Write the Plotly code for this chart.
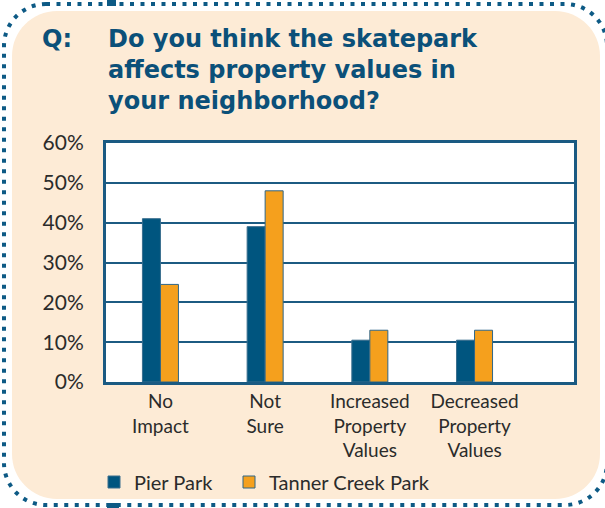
import plotly.graph_objects as go

categories = ["No<br>Impact", "Not<br>Sure", "Increased<br>Property<br>Values", "Decreased<br>Property<br>Values"]
pier_park = [41, 39, 10.5, 10.5]
tanner_creek = [24.5, 48, 13, 13]
y_ticks = [0, 10, 20, 30, 40, 50, 60]
y_tick_labels = [f"{v}%" for v in y_ticks]

W, H = 605, 508
L, R, T, B = 106, 574, 143, 382  # plot area in px

def px(x, y):
    return (x - L) / (R - L), (B - y) / (B - T)

def rounded_path(x0, y0, x1, y1, r):
    k = 0.5523 * r
    def p(x, y):
        a, b = px(x, y)
        return f"{a:.5f},{b:.5f}"
    d = (f"M{p(x0 + r, y0)} L{p(x1 - r, y0)} "
         f"C{p(x1 - r + k, y0)} {p(x1, y0 + r - k)} {p(x1, y0 + r)} "
         f"L{p(x1, y1 - r)} "
         f"C{p(x1, y1 - r + k)} {p(x1 - r + k, y1)} {p(x1 - r, y1)} "
         f"L{p(x0 + r, y1)} "
         f"C{p(x0 + r - k, y1)} {p(x0, y1 - r + k)} {p(x0, y1 - r)} "
         f"L{p(x0, y0 + r)} "
         f"C{p(x0, y0 + r - k)} {p(x0 + r - k, y0)} {p(x0 + r, y0)} Z")
    return d

BLUE = "#00557F"
ORANGE = "#F5A01D"
TITLE = "#0B5079"
GRID = "#1C5B82"
TEXT = "#2B2B2B"
PEACH = "#FDEBD6"

fig = go.Figure()
fig.add_bar(x=categories, y=pier_park, name="Pier Park", legend="legend",
            marker=dict(color=BLUE, line=dict(color="#3A6E8E", width=1)))
fig.add_bar(x=categories, y=tanner_creek, name="Tanner Creek Park", legend="legend2",
            marker=dict(color=ORANGE, line=dict(color="#2F6688", width=1)))

shapes = [
    dict(type="path", xref="paper", yref="paper", layer="below",
         path=rounded_path(12, 11, 600, 499, 45), fillcolor=PEACH, line=dict(width=0)),
    dict(type="path", xref="paper", yref="paper", layer="below",
         path=rounded_path(4, 4, 607, 505, 42), fillcolor="rgba(0,0,0,0)",
         line=dict(color="#0D5A85", width=4, dash="4px,6.5px")),
    dict(type="rect", xref="paper", yref="paper", layer="below",
         x0=0, x1=1, y0=0, y1=1, fillcolor="white", line=dict(width=0)),
]
for (x0, y0, x1, y1) in [(107, 0, 116, 6), (107, 503, 119, 508)]:
    a0, b0 = px(x0, y1)
    a1, b1 = px(x1, y0)
    shapes.append(dict(type="rect", xref="paper", yref="paper", layer="below",
                       x0=a0, x1=a1, y0=b0, y1=b1, fillcolor="#0D5A85", line=dict(width=0)))

qx, qy = px(40, 23)
tx, ty = px(106, 23)
TITLE_FONT = dict(family="DejaVu Sans", size=24, color=TITLE)
annotations = [
    dict(text="<b>Q:</b>", xref="paper", yref="paper", x=qx, y=qy, xanchor="left", yanchor="top",
         showarrow=False, align="left", font=TITLE_FONT),
    dict(text="<b>Do you think the skatepark<br>affects property values in<br>your neighborhood?</b>",
         xref="paper", yref="paper", x=tx, y=ty, xanchor="left", yanchor="top",
         showarrow=False, align="left", font=TITLE_FONT),
]

l1x, l1y = px(94, 482)
l2x, l2y = px(229, 482)
LEG_FONT = dict(family="Lato", size=20, color=TEXT)

fig.update_layout(
    width=W, height=H,
    margin=dict(l=L, r=W - R, t=T, b=H - B, pad=0, autoexpand=False),
    paper_bgcolor="white",
    plot_bgcolor="rgba(0,0,0,0)",
    barmode="group", bargap=0.656, bargroupgap=0,
    shapes=shapes, annotations=annotations,
    font=dict(family="Lato", color=TEXT),
    showlegend=True,
    legend=dict(orientation="h", x=l1x, y=l1y, xanchor="left", yanchor="middle",
                font=LEG_FONT, bgcolor="rgba(0,0,0,0)"),
    legend2=dict(orientation="h", x=l2x, y=l2y, xanchor="left", yanchor="middle",
                 font=LEG_FONT, bgcolor="rgba(0,0,0,0)"),
    xaxis=dict(type="category", range=[-0.52, 3.95], showgrid=False, automargin=False,
               showline=True, mirror=True, linecolor="#1A5A82", linewidth=3,
               ticks="",
               tickfont=dict(family="Lato", size=19, color=TEXT)),
    yaxis=dict(range=[0, 60], tickvals=y_ticks, ticktext=y_tick_labels, automargin=False,
               showgrid=True, gridcolor=GRID, gridwidth=2, zeroline=False,
               showline=True, mirror=True, linecolor="#1A5A82", linewidth=3,
               ticks="outside", ticklen=15, tickcolor="rgba(0,0,0,0)",
               tickfont=dict(family="Lato", size=21, color=TEXT)),
)

fig.write_html("out.html", config={"displayModeBar": False},
               post_script="document.body.style.margin='0';document.body.style.overflow='hidden';")
